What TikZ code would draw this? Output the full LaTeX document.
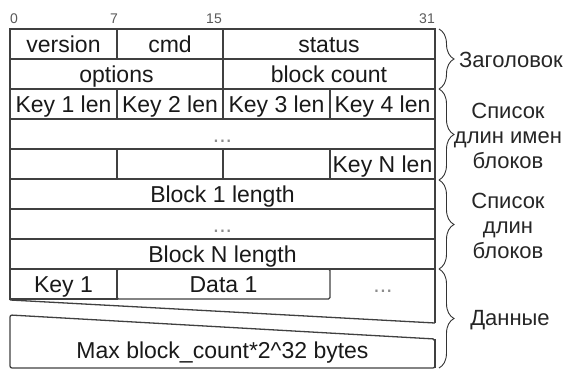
\documentclass[tikz,border=0pt]{standalone}
\usepackage{fontspec}
\setmainfont{Liberation Sans}
\usetikzlibrary{decorations.pathreplacing}
\begin{document}
\begin{tikzpicture}[x=1pt,y=-1pt,
  cell/.style={draw=black!75, line width=1.3pt, minimum height=30pt, inner sep=0pt, text height=17pt, text depth=0pt, font=\fontsize{23}{28}\selectfont, text=black!90},
  dots/.style={text=black!45},
  frame/.style={draw=black!75, line width=1.3pt},
  bit/.style={font=\fontsize{14}{16}\selectfont, text=black!65, inner sep=0pt},
  grp/.style={font=\fontsize{22}{25}\selectfont, align=center, text=black!85, inner sep=0pt},
  brace/.style={draw=black!80, line width=0.9pt, decorate, decoration={brace, amplitude=15pt}}]
\useasboundingbox (0,0) rectangle (566,369);
\node[bit, anchor=south west] (b0) at (10,24) {0};
\node[bit, anchor=south east] (b7) at (118,24) {7};
\node[bit, anchor=south east] (b15) at (222,24) {15};
\node[bit, anchor=south east] (b31) at (435,24) {31};
\node[cell, minimum width=107pt] (ver) at (63.5,44) {version};
\node[cell, minimum width=106pt] (cmd) at (170,44) {cmd};
\node[cell, minimum width=212pt] (sts) at (329,44) {status};
\node[cell, minimum width=213pt] (opt) at (116.5,74) {options};
\node[cell, minimum width=212pt] (bcnt) at (329,74) {block count};
\node[cell, minimum width=107pt] (k1l) at (63.5,104) {Key 1 len};
\node[cell, minimum width=106pt] (k2l) at (170,104) {Key 2 len};
\node[cell, minimum width=107pt] (k3l) at (276.5,104) {Key 3 len};
\node[cell, minimum width=105pt] (k4l) at (382.5,104) {Key 4 len};
\node[cell, minimum width=425pt] (kdots) at (222.5,134) {\textcolor{black!45}{...}};
\node[cell, minimum width=107pt] (e1) at (63.5,164) {};
\node[cell, minimum width=106pt] (e2) at (170,164) {};
\node[cell, minimum width=107pt] (e3) at (276.5,164) {};
\node[cell, minimum width=105pt] (knl) at (382.5,164) {Key N len};
\node[cell, minimum width=425pt] (blk1) at (222.5,194) {Block 1 length};
\node[cell, minimum width=425pt] (bdots) at (222.5,224) {\textcolor{black!45}{...}};
\node[cell, minimum width=425pt] (blkn) at (222.5,254) {Block N length};
\node[cell, minimum width=107pt] (key1) at (63.5,284) {Key 1};
\node[cell, minimum width=213pt, rounded corners=1.5pt] (data1) at (223.5,284) {Data 1};
\node[cell, draw=none, dots] (ddots) at (383,284) {...};
% torn data area
\coordinate (dtl) at (10,269);
\coordinate (dtr) at (435,269);
\coordinate (dbl) at (10,300);
\coordinate (dbr) at (435,323);
\draw[frame] (dtl) -- (dtr) -- (dbr);
\draw[frame] (dbl) -- (dbr);
\coordinate (mtl) at (10,315);
\coordinate (mtr) at (435,339);
\coordinate (mbr) at (435,368);
\coordinate (mbl) at (10,368);
\draw[frame, rounded corners=2pt] (mbl) -- (mtl) -- (mtr) -- (mbr) -- cycle;
\node[cell, draw=none] (maxb) at (222.5,349.5) {Max block\_count*2\textasciicircum 32 bytes};
% thick right edge
\draw[draw=black!75, line width=2.4pt] (435,29) -- (dbr);
\draw[draw=black!75, line width=2.4pt] (mtr) -- (mbr);
% braces
\draw[brace] (439,29) -- (439,89);
\draw[brace] (439,89) -- (439,180);
\draw[brace] (439,180) -- (439,269);
\draw[brace] (439,269) -- (439,368);
\node[grp, anchor=west] (hdr) at (459,60) {Заголовок};
\node[grp] (klst) at (508,136) {Список\\длин имен\\блоков};
\node[grp] (blst) at (508,226) {Список\\длин\\блоков};
\node[grp] (dat) at (510,320) {Данные};
\end{tikzpicture}
\end{document}
